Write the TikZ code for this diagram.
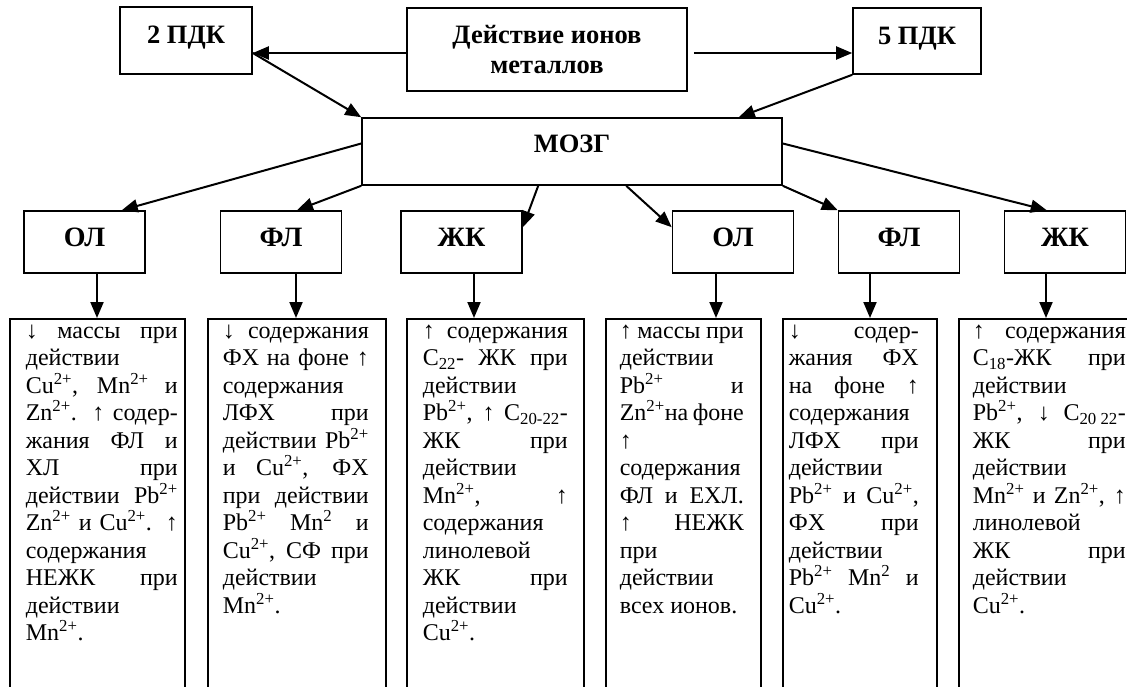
\documentclass[tikz,border=0pt]{standalone}
\usepackage{fontspec}
\setmainfont{Liberation Serif}
\usetikzlibrary{arrows.meta}
\tikzset{}

% text of one tall box: left pad, width, right pad, text
\newcommand{\mzcell}[4]{\hspace*{#1}\parbox[t][372pt][t]{#2}{\tolerance=10000\pretolerance=10000\hbadness=10000\strut#4}\hspace*{#3}}

\begin{document}
\begin{tikzpicture}[x=1pt,y=-1pt]
            \tikzset{
                mz head/.style={draw,line width=1.6pt,inner sep=0pt,font=\bfseries\fontsize{26.5pt}{30pt}\selectfont,align=center},
                mz small/.style={mz head,font=\bfseries\fontsize{28pt}{32pt}\selectfont,minimum width=121pt,minimum height=62pt,text height=19pt,text depth=11pt},
                mz tall/.style={draw,line width=1.6pt,inner sep=0pt,anchor=north west,font=\fontsize{24pt}{27.5pt}\selectfont},
                mz edge/.style={-{Triangle[length=16pt,width=13pt]},line width=2pt}
            }
            \clip (0,0) rectangle (1127,686);
            % top row
            \node[mz head,minimum width=132pt,minimum height=67pt,text height=18pt,text depth=12pt] (pdk2) at (186,40.5) {2 ПДК};
            \node[mz head,minimum width=280pt,minimum height=83pt] (act) at (547,49.5) {Действие ионов\\металлов};
            \node[mz head,minimum width=128pt,minimum height=66pt,text height=18pt,text depth=12pt] (pdk5) at (917,41) {5 ПДК};
            \node[mz head,minimum width=420pt,minimum height=67pt,text height=18pt,text depth=17pt] (mozg) at (572,151.5) {МОЗГ};
            % second row
            \node[mz small] (ol1) at (84.5,242) {ОЛ};
            \node[mz small] (fl1) at (281,242) {ФЛ};
            \node[mz small] (zk1) at (461.5,242) {ЖК};
            \node[mz small] (ol2) at (733,242) {ОЛ};
            \node[mz small] (fl2) at (899,242) {ФЛ};
            \node[mz small] (zk2) at (1065,242) {ЖК};
            % tall boxes
            \node[mz tall] (t1) at (9,318) {\mzcell{16pt}{152pt}{7pt}{%
                ↓ массы при\linebreak
                действии\linebreak
                Cu\textsuperscript{2+}, Mn\textsuperscript{2+} и\linebreak
                Zn\textsuperscript{2+}. ↑ содер-\linebreak
                жания ФЛ и\linebreak
                ХЛ при\linebreak
                действии Pb\textsuperscript{2+}\linebreak
                Zn\textsuperscript{2+} и Cu\textsuperscript{2+}. ↑\linebreak
                содержания\linebreak
                НЕЖК при\linebreak
                действии\linebreak
                Mn\textsuperscript{2+}.}};
            \node[mz tall] (t2) at (207,318) {\mzcell{15pt}{146pt}{17pt}{%
                ↓ содержания\linebreak
                ФХ на фоне ↑\linebreak
                содержания\linebreak
                ЛФХ при\linebreak
                действии Pb\textsuperscript{2+}\linebreak
                и Cu\textsuperscript{2+}, ФХ\linebreak
                при действии\linebreak
                Pb\textsuperscript{2+} Mn\textsuperscript{2} и\linebreak
                Cu\textsuperscript{2+}, СФ при\linebreak
                действии\linebreak
                Mn\textsuperscript{2+}.}};
            \node[mz tall] (t3) at (406,318) {\mzcell{16pt}{145pt}{16pt}{%
                ↑ содержания\linebreak
                C\textsubscript{22}- ЖК при\linebreak
                действии\linebreak
                Pb\textsuperscript{2+}, ↑ C\textsubscript{20-22}-\linebreak
                ЖК при\linebreak
                действии\linebreak
                Mn\textsuperscript{2+}, ↑\linebreak
                содержания\linebreak
                линолевой\linebreak
                ЖК при\linebreak
                действии\linebreak
                Cu\textsuperscript{2+}.}};
            \node[mz tall] (t4) at (605,318) {\mzcell{14pt}{124pt}{17pt}{%
                ↑ массы при\linebreak
                действии\linebreak
                Pb\textsuperscript{2+} и\linebreak
                Zn\textsuperscript{2+}на фоне\linebreak
                ↑\linebreak
                содержания\linebreak
                ФЛ и ЕХЛ.\linebreak
                ↑ НЕЖК\linebreak
                при\linebreak
                действии\linebreak
                всех ионов.}};
            \node[mz tall] (t5) at (782,318) {\mzcell{6pt}{130pt}{18pt}{%
                ↓ содер-\linebreak
                жания ФХ\linebreak
                на фоне ↑\linebreak
                содержания\linebreak
                ЛФХ при\linebreak
                действии\linebreak
                Pb\textsuperscript{2+} и Cu\textsuperscript{2+},\linebreak
                ФХ при\linebreak
                действии\linebreak
                Pb\textsuperscript{2+} Mn\textsuperscript{2} и\linebreak
                Cu\textsuperscript{2+}.}};
            \node[mz tall] (t6) at (958,318) {\mzcell{14pt}{153pt}{14pt}{%
                ↑ содержания\linebreak
                C\textsubscript{18}-ЖК при\linebreak
                действии\linebreak
                Pb\textsuperscript{2+}, ↓ C\textsubscript{20 22}-\linebreak
                ЖК при\linebreak
                действии\linebreak
                Mn\textsuperscript{2+} и Zn\textsuperscript{2+}, ↑\linebreak
                линолевой\linebreak
                ЖК при\linebreak
                действии\linebreak
                Cu\textsuperscript{2+}.}};
            % arrows
            \coordinate (h) at (0,53);
            \path[draw]
                (act.west |- h) edge[mz edge] (pdk2.east |- h)
                ([xshift=6pt]act.east |- h) edge[mz edge] (pdk5.west |- h)
                (pdk2.east |- h) edge[mz edge] (mozg.north west)
                (pdk5.south west) edge[mz edge] ([xshift=-44pt]mozg.north east)
                ([yshift=8pt]mozg.west) edge[mz edge] ([xshift=-24pt]ol1.north east)
                (mozg.south west) edge[mz edge] ([xshift=16pt]fl1.north)
                ([xshift=177pt]mozg.south west) edge[mz edge] ([yshift=-17pt]zk1.north east)
                ([xshift=265pt]mozg.south west) edge[mz edge] ([yshift=-17pt]ol2.north west)
                (mozg.south east) edge[mz edge] (fl2.north west)
                ([yshift=8pt]mozg.east) edge[mz edge] ([xshift=43pt]zk2.north west)
                (ol1.south -| 97,0) edge[mz edge] (t1.north -| 97,0)
                (fl1.south -| 296,0) edge[mz edge] (t2.north -| 296,0)
                (zk1.south -| 474,0) edge[mz edge] (t3.north -| 474,0)
                (ol2.south -| 716,0) edge[mz edge] (t4.north -| 716,0)
                (fl2.south -| 870,0) edge[mz edge] (t5.north -| 870,0)
                (zk2.south -| 1046,0) edge[mz edge] (t6.north -| 1046,0)
                ;
        \end{tikzpicture}
\end{document}
